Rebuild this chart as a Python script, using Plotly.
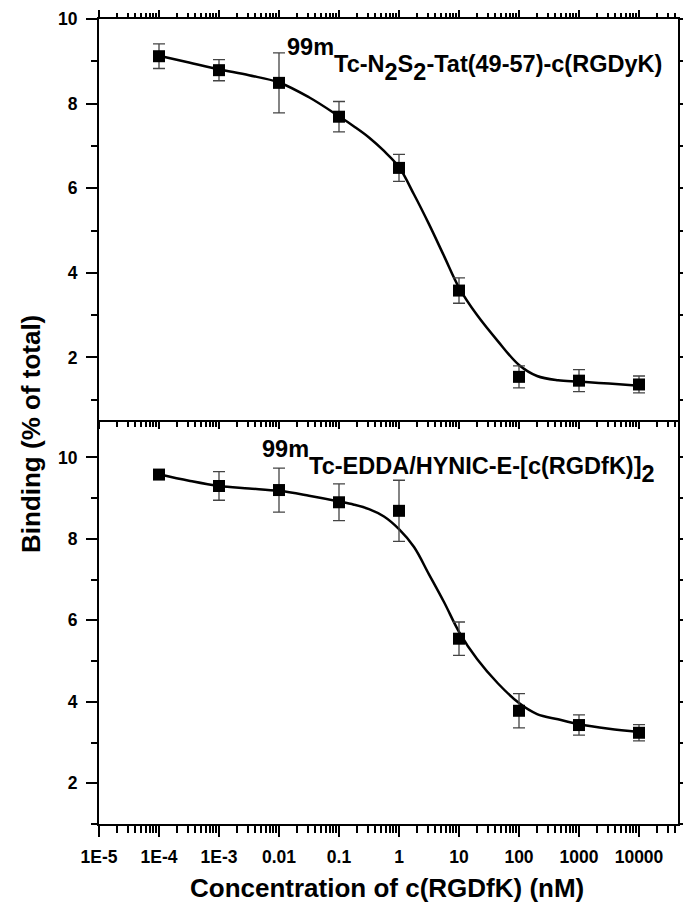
import plotly.graph_objects as go

# ---------------- data ----------------
conc = [1e-4, 1e-3, 1e-2, 1e-1, 1, 10, 100, 1000, 10000]

top_binding = [9.12, 8.79, 8.49, 7.69, 6.48, 3.58, 1.54, 1.45, 1.36]
top_err = [0.29, 0.25, 0.71, 0.36, 0.32, 0.30, 0.26, 0.26, 0.20]

bot_binding = [9.58, 9.30, 9.20, 8.90, 8.69, 5.55, 3.78, 3.43, 3.24]
bot_err = [0.04, 0.35, 0.54, 0.45, 0.75, 0.41, 0.42, 0.25, 0.20]

fit_conc = [1e-4, 3.16e-4, 1e-3, 3.16e-3, 0.01, 0.0316, 0.1, 0.178, 0.316, 0.562,
            1, 1.78, 3.16, 5.62, 10, 20, 44.7, 100, 200, 447, 1000, 3160, 10000]
top_fit = [9.13, 8.97, 8.81, 8.67, 8.50, 8.15, 7.70, 7.46, 7.20, 6.88,
           6.50, 5.85, 5.15, 4.40, 3.65, 3.00, 2.38, 1.82, 1.56, 1.46, 1.43, 1.38, 1.33]
bot_fit = [9.59, 9.43, 9.30, 9.24, 9.18, 9.06, 8.92, 8.84, 8.73, 8.55,
           8.24, 7.80, 7.13, 6.45, 5.72, 5.05, 4.45, 3.97, 3.70, 3.57, 3.45, 3.34, 3.26]

x_tickvals = [1e-5, 1e-4, 1e-3, 0.01, 0.1, 1, 10, 100, 1000, 10000]
x_ticktext = ["1E-5", "1E-4", "1E-3", "0.01", "0.1", "1", "10", "100", "1000", "10000"]
x_minorvals = [k * 10.0 ** n for n in range(-5, 5) for k in range(2, 10) if k * 10.0 ** n < 4.4e4]
y_tickvals = [2, 4, 6, 8, 10]
y_minorvals = [1, 3, 5, 7, 9]

LS = 23.5
SPAN = '<span style="font-size:%spx">' % LS
top_label = ('<sup><sup>' + SPAN + '99m</span></sup></sup>Tc-N'
             '<sub><sub>' + SPAN + '2</span></sub></sub>S'
             '<sub><sub>' + SPAN + '2</span></sub></sub>-Tat(49-57)-c(RGDyK)')
bot_label = ('<sup><sup>' + SPAN + '99m</span></sup></sup>Tc-EDDA/HYNIC-E-[c(RGDfK)]'
             '<sub><sub>' + SPAN + '2</span></sub></sub>')

FONT = "Arial"
X_RANGE = [-5, 4.65]
TOP_YRANGE = [0.52, 10]
BOT_YRANGE = [1.0, 10.92]
SPLIT = 404 / 805

fig = go.Figure()

# top panel
fig.add_trace(go.Scatter(x=fit_conc, y=top_fit, mode="lines", line=dict(color="black", width=2.5, shape="spline"),
                         xaxis="x2", yaxis="y2", hoverinfo="skip"))
fig.add_trace(go.Scatter(x=conc, y=top_binding, mode="markers",
                         marker=dict(symbol="square", size=12, color="black"),
                         error_y=dict(type="data", array=top_err, visible=True, color="#444444", thickness=1.3, width=6),
                         xaxis="x2", yaxis="y2"))
# bottom panel
fig.add_trace(go.Scatter(x=fit_conc, y=bot_fit, mode="lines", line=dict(color="black", width=2.5, shape="spline"),
                         xaxis="x", yaxis="y", hoverinfo="skip"))
fig.add_trace(go.Scatter(x=conc, y=bot_binding, mode="markers",
                         marker=dict(symbol="square", size=12, color="black"),
                         error_y=dict(type="data", array=bot_err, visible=True, color="#444444", thickness=1.3, width=6),
                         xaxis="x", yaxis="y"))

tickfont = dict(family=FONT, size=17.5, color="black", weight="bold")


def xax(**kw):
    d = dict(type="log", range=X_RANGE, showline=True, linecolor="black", linewidth=2, automargin=False,
             showgrid=False, zeroline=False, tickmode="array", tickvals=x_tickvals, ticktext=x_ticktext,
             tickcolor="black", tickwidth=2, tickfont=tickfont, ticks="outside",
             minor=dict(tickmode="array", tickvals=x_minorvals, tickcolor="black", tickwidth=1.5,
                        showgrid=False, ticks="outside"))
    d.update(kw)
    return d


def yax(rng, **kw):
    d = dict(range=rng, showline=True, linecolor="black", linewidth=2, showgrid=False, zeroline=False,
             automargin=False, ticks="outside", mirror="allticks",
             tickmode="array", tickvals=y_tickvals, tickcolor="black", tickwidth=2, tickfont=tickfont,
             minor=dict(tickmode="array", tickvals=y_minorvals, tickcolor="black", tickwidth=1.6,
                        showgrid=False, ticks="outside"))
    d.update(kw)
    return d


# bottom axis with labels
xa = xax(anchor="y", domain=[0, 1], ticklen=11, ticklabelstandoff=5)
xa["minor"].update(ticklen=7)
# top-panel x axis: ticks at the divider (pointing down) mirrored onto the top edge
xa2 = xax(anchor="y2", domain=[0, 1], ticklen=7, showticklabels=False, mirror="allticks")
xa2["minor"].update(ticklen=4.5)

ya = yax(BOT_YRANGE, anchor="x", domain=[0, SPLIT], ticklen=11, ticklabelstandoff=5)
ya["minor"].update(ticklen=6)
ya2 = yax(TOP_YRANGE, anchor="x2", domain=[SPLIT, 1], ticklen=11, ticklabelstandoff=5)
ya2["minor"].update(ticklen=6)

# page body has an 8px default margin: size the figure so it ends at the window edge
fig.update_layout(
    width=683, height=895,
    margin=dict(l=91, r=13, t=11, b=79, autoexpand=False),
    paper_bgcolor="white", plot_bgcolor="white",
    showlegend=False,
    xaxis=xa, xaxis2=xa2,
    yaxis=ya, yaxis2=ya2,
    font=dict(family=FONT, color="black"),
    annotations=[
        dict(text=top_label, xref="paper", yref="paper", x=0.3212, y=0.984, xanchor="left", yanchor="top",
             showarrow=False, font=dict(family=FONT, size=LS, color="black", weight="bold")),
        dict(text=bot_label, xref="paper", yref="paper", x=0.278, y=0.4845, xanchor="left", yanchor="top",
             showarrow=False, font=dict(family=FONT, size=LS, color="black", weight="bold")),
        dict(text="Binding (% of total)", xref="paper", yref="paper", x=-0.1174, y=0.4845, textangle=-90,
             xanchor="center", yanchor="middle", showarrow=False,
             font=dict(family=FONT, size=26, color="black", weight="bold")),
        dict(text="Concentration of c(RGDfK) (nM)", xref="paper", yref="paper", x=0.497, y=-0.0795,
             xanchor="center", yanchor="middle", showarrow=False,
             font=dict(family=FONT, size=26, color="black", weight="bold")),
    ],
)

fig.write_html("out.html")
